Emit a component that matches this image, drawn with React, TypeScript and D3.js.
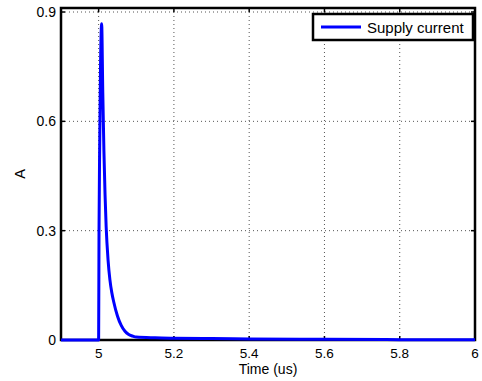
import React, { useRef, useEffect } from "react";
import * as d3 from "d3";

const times = [4.9, 4.999, 5.0, 5.001, 5.003, 5.005, 5.008, 5.011, 5.014, 5.017, 5.02, 5.025, 5.03, 5.035, 5.04, 5.05, 5.06, 5.07, 5.08, 5.09, 5.1, 5.15, 5.2, 5.3, 5.4, 5.6, 5.8, 6.0];
const current = [0, 0, 0, 0.3, 0.55, 0.75, 0.868, 0.68, 0.52, 0.4, 0.31, 0.22, 0.165, 0.13, 0.105, 0.066, 0.04, 0.024, 0.015, 0.011, 0.008, 0.006, 0.005, 0.004, 0.003, 0.002, 0.001, 0.0005];
const xTicks = [5, 5.2, 5.4, 5.6, 5.8, 6];
const yTicks = [0, 0.3, 0.6, 0.9];
const seriesName = "Supply current";

const W = 482;
const H = 381;

const App = () => {
  const ref = useRef<SVGSVGElement>(null);

  useEffect(() => {
    const svg = d3.select(ref.current);
    svg.selectAll("*").remove();

    const margin = { top: 8, right: 7, bottom: 41, left: 61 };
    const iw = W - margin.left - margin.right;
    const ih = H - margin.top - margin.bottom;
    const font = "Liberation Sans, Arial, sans-serif";

    const x = d3.scaleLinear().domain([4.9, 6]).range([0, iw]);
    const y = d3.scaleLinear().domain([0, 0.911]).range([ih, 0]);

    const g = svg.append("g").attr("transform", `translate(${margin.left},${margin.top})`);

    g.append("rect").attr("width", iw).attr("height", ih).attr("fill", "#fff");

    // dotted grid
    g.selectAll(".gx")
      .data(xTicks.filter((t) => t !== 6))
      .enter()
      .append("line")
      .attr("x1", (d) => x(d)).attr("x2", (d) => x(d))
      .attr("y1", 0).attr("y2", ih)
      .attr("stroke", "#555").attr("stroke-width", 1)
      .attr("stroke-dasharray", "1,3");
    g.selectAll(".gy")
      .data(yTicks.filter((t) => t !== 0))
      .enter()
      .append("line")
      .attr("y1", (d) => y(d)).attr("y2", (d) => y(d))
      .attr("x1", 0).attr("x2", iw)
      .attr("stroke", "#555").attr("stroke-width", 1)
      .attr("stroke-dasharray", "1,3");

    // inward tick marks on all four sides
    const tl = 4;
    xTicks.forEach((t) => {
      g.append("line").attr("x1", x(t)).attr("x2", x(t)).attr("y1", ih).attr("y2", ih - tl).attr("stroke", "#000").attr("stroke-width", 1.5);
      g.append("line").attr("x1", x(t)).attr("x2", x(t)).attr("y1", 0).attr("y2", tl).attr("stroke", "#000").attr("stroke-width", 1.5);
    });
    yTicks.forEach((t) => {
      g.append("line").attr("y1", y(t)).attr("y2", y(t)).attr("x1", 0).attr("x2", tl).attr("stroke", "#000").attr("stroke-width", 1.5);
      g.append("line").attr("y1", y(t)).attr("y2", y(t)).attr("x1", iw).attr("x2", iw - tl).attr("stroke", "#000").attr("stroke-width", 1.5);
    });

    // axes box
    g.append("rect").attr("width", iw).attr("height", ih)
      .attr("fill", "none").attr("stroke", "#000").attr("stroke-width", 2.5);

    // curve
    const line = d3.line<number>()
      .x((d, i) => x(times[i]))
      .y((d) => y(d))
      .curve(d3.curveMonotoneX);
    g.append("path")
      .datum(current)
      .attr("d", line)
      .attr("fill", "none")
      .attr("stroke", "#0000ff")
      .attr("stroke-width", 3)
      .attr("stroke-linejoin", "round");

    // tick labels
    g.selectAll(".xl")
      .data(xTicks)
      .enter()
      .append("text")
      .attr("x", (d) => x(d))
      .attr("y", ih + 18)
      .attr("text-anchor", "middle")
      .attr("font-family", font)
      .attr("font-size", 13.5)
      .text((d) => d3.format("")(d));
    g.selectAll(".yl")
      .data(yTicks)
      .enter()
      .append("text")
      .attr("x", -5)
      .attr("y", (d) => y(d) + 5)
      .attr("text-anchor", "end")
      .attr("font-family", font)
      .attr("font-size", 14)
      .text((d) => d3.format("")(d));

    // axis labels
    svg.append("text")
      .attr("x", margin.left + iw / 2)
      .attr("y", 374)
      .attr("text-anchor", "middle")
      .attr("font-family", font)
      .attr("font-size", 14)
      .text("Time (us)");
    svg.append("text")
      .attr("transform", `translate(25,${margin.top + ih / 2}) rotate(-90)`)
      .attr("text-anchor", "middle")
      .attr("font-family", font)
      .attr("font-size", 14.5)
      .text("A");

    // legend
    const lg = svg.append("g").attr("transform", "translate(313,14)");
    lg.append("rect").attr("width", 160).attr("height", 26)
      .attr("fill", "#fff").attr("stroke", "#000").attr("stroke-width", 2.5);
    lg.append("line").attr("x1", 8).attr("x2", 48).attr("y1", 13).attr("y2", 13)
      .attr("stroke", "#0000ff").attr("stroke-width", 3);
    lg.append("text").attr("x", 54).attr("y", 18.5)
      .attr("font-family", font).attr("font-size", 15)
      .text(seriesName);
  }, []);

  return (
    <div style={{ position: "absolute", left: 0, top: 0 }}>
      <svg ref={ref} width={W} height={H} style={{ display: "block" }} />
    </div>
  );
};

export default App;
